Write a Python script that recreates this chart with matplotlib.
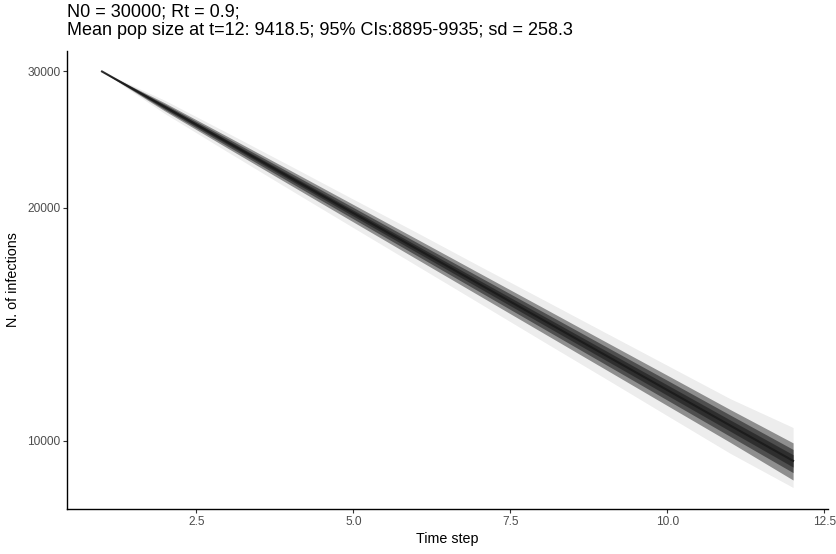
#!/usr/bin/env python3
"""
Simulated infection trajectories (N0 = 30000, Rt = 0.9), drawn as
stacked percentile bands on a log y axis.
"""

import matplotlib
matplotlib.use('Agg')
import matplotlib.pyplot as plt
from matplotlib.ticker import FixedLocator, FixedFormatter, NullLocator

# Time steps and summary of the simulated runs
TIME_STEP = [1, 2, 3, 4, 5, 6, 7, 8, 9, 10, 11, 12]
MEAN = [30000, 27000, 24300, 21870, 19683, 17715, 15943, 14349, 12914, 11623, 10460, 9418]
Q25 = [30000, 26889, 24156, 21706, 19508, 17534, 15759, 14164, 12731, 11443, 10285, 9244]
Q75 = [30000, 27111, 24444, 22034, 19858, 17896, 16127, 14534, 13097, 11803, 10635, 9592]
Q10 = [30000, 26789, 24026, 21559, 19350, 17371, 15594, 13998, 12567, 11281, 10127, 9093]
Q90 = [30000, 27211, 24574, 22181, 20016, 18059, 16292, 14700, 13261, 11965, 10793, 9743]
LO95 = [30000, 26677, 23881, 21394, 19173, 17187, 15408, 13812, 12383, 11099, 9950, 8895]
HI95 = [30000, 27323, 24719, 22346, 20193, 18243, 16478, 14886, 13445, 12147, 10970, 9935]
MIN_RUN = [30000, 26470, 23615, 21090, 18850, 16855, 15070, 13470, 12050, 10770, 9630, 8700]
MAX_RUN = [30000, 27530, 24985, 22650, 20515, 18600, 16830, 15250, 13810, 12510, 11330, 10400]

X_TICKS = [2.5, 5.0, 7.5, 10.0, 12.5]
Y_TICKS = [10000, 20000, 30000]

TITLE = ('N0 = 30000; Rt = 0.9;\n'
         'Mean pop size at t=12: 9418.5; 95% CIs:8895-9935; sd = 258.3')

plt.rcParams['font.family'] = ['Liberation Sans', 'DejaVu Sans']

fig = plt.figure(figsize=(8.36, 5.54), dpi=100)
ax = fig.add_axes([0.0807, 0.0812, 0.9093, 0.827])

ink = '#1a1a1a'
# outer runs faint, then progressively darker towards the centre
ax.fill_between(TIME_STEP, MIN_RUN, MAX_RUN, color=ink, alpha=0.08, lw=0)
ax.fill_between(TIME_STEP, LO95, HI95, color=ink, alpha=0.45, lw=0)
ax.fill_between(TIME_STEP, Q10, Q90, color=ink, alpha=0.55, lw=0)
ax.fill_between(TIME_STEP, Q25, Q75, color=ink, alpha=0.6, lw=0)
ax.plot(TIME_STEP, MEAN, color=ink, lw=1.5, alpha=0.9)

ax.set_yscale('log')
ax.set_xlim(0.45, 12.55)
ax.set_ylim(8160, 31900)

ax.xaxis.set_major_locator(FixedLocator(X_TICKS))
ax.xaxis.set_major_formatter(FixedFormatter([f'{v:.1f}' for v in X_TICKS]))
ax.yaxis.set_major_locator(FixedLocator(Y_TICKS))
ax.yaxis.set_major_formatter(FixedFormatter([str(v) for v in Y_TICKS]))
ax.yaxis.set_minor_locator(NullLocator())

for side in ('top', 'right'):
    ax.spines[side].set_visible(False)
for side in ('left', 'bottom'):
    ax.spines[side].set_linewidth(1.0)
    ax.spines[side].set_color('black')

ax.tick_params(axis='both', length=3, width=0.8, color='#333333',
               labelsize=8.6, labelcolor='#4d4d4d', pad=2)

ax.set_xlabel('Time step', fontsize=10.3, color='black', labelpad=3)
ax.set_ylabel('N. of infections', fontsize=10.3, color='black', labelpad=5)

fig.text(0.0807, 0.993, TITLE, ha='left', va='top', fontsize=13,
         color='black', linespacing=1.05)

fig.savefig('out.png', dpi=100)
